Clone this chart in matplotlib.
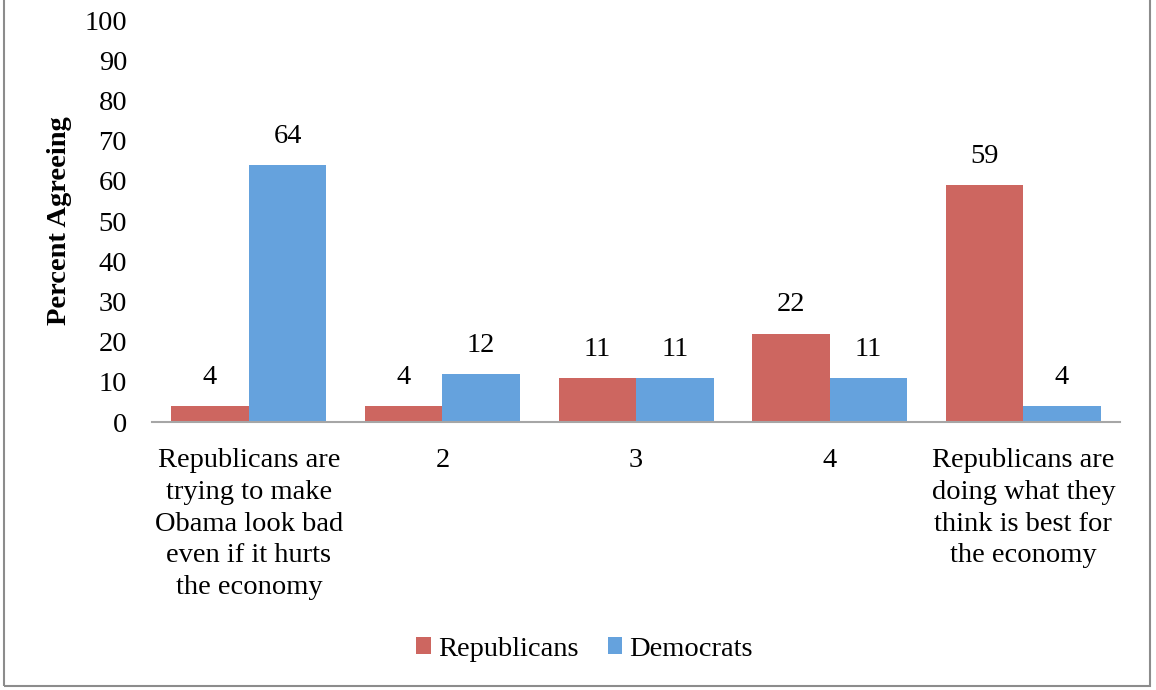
import numpy as np
import matplotlib.pyplot as plt
from matplotlib.patches import Rectangle

plt.rcParams['font.family'] = ['Liberation Serif', 'DejaVu Serif']

categories = [
    'Republicans are\ntrying to make\nObama look bad\neven if it hurts\nthe economy',
    '2',
    '3',
    '4',
    'Republicans are\ndoing what they\nthink is best for\nthe economy',
]
republicans = [4, 4, 11, 22, 59]
democrats = [64, 12, 11, 11, 4]

red = '#CD6660'
blue = '#65A2DD'
fs = 20.5

fig = plt.figure(figsize=(11.56, 6.9), dpi=100)
ax = fig.add_axes([0.1315, 0.3884, 0.8375, 0.5826])

x = np.arange(len(categories))
w = 0.4
b1 = ax.bar(x - w / 2, republicans, w, color=red, label='Republicans')
b2 = ax.bar(x + w / 2, democrats, w, color=blue, label='Democrats')

for bars, vals in ((b1, republicans), (b2, democrats)):
    for rect, v in zip(bars, vals):
        ax.text(rect.get_x() + rect.get_width() / 2, v + 4.0, str(v),
                ha='center', va='bottom', fontsize=fs)

ax.set_xlim(-0.5, len(categories) - 0.5)
ax.set_ylim(0, 100)
ax.set_yticks(range(0, 101, 10))
ax.set_xticks(x)
ax.set_xticklabels(categories, fontsize=fs, linespacing=1.35, va='top')
ax.tick_params(axis='both', length=0, labelsize=fs)
ax.tick_params(axis='y', pad=18)
ax.tick_params(axis='x', pad=19)

for s in ('top', 'right', 'left'):
    ax.spines[s].set_visible(False)
ax.spines['bottom'].set_color('#a6a6a6')
ax.spines['bottom'].set_linewidth(1.5)

ax.set_ylabel('Percent Agreeing', fontsize=fs, fontweight='bold', labelpad=9)

ax.legend(loc='center', bbox_to_anchor=(0.447, -0.565), ncol=2, frameon=False,
          fontsize=fs, handlelength=0.5, handleheight=0.5, handletextpad=0.25,
          columnspacing=1.05)

# outer chart border
fig.patches.append(Rectangle((4 / 1156, 4 / 690), 1146 / 1156, 0.999,
                             transform=fig.transFigure, fill=False,
                             edgecolor='#8c8c8c', linewidth=1.5))

fig.savefig('out.png', dpi=100)
